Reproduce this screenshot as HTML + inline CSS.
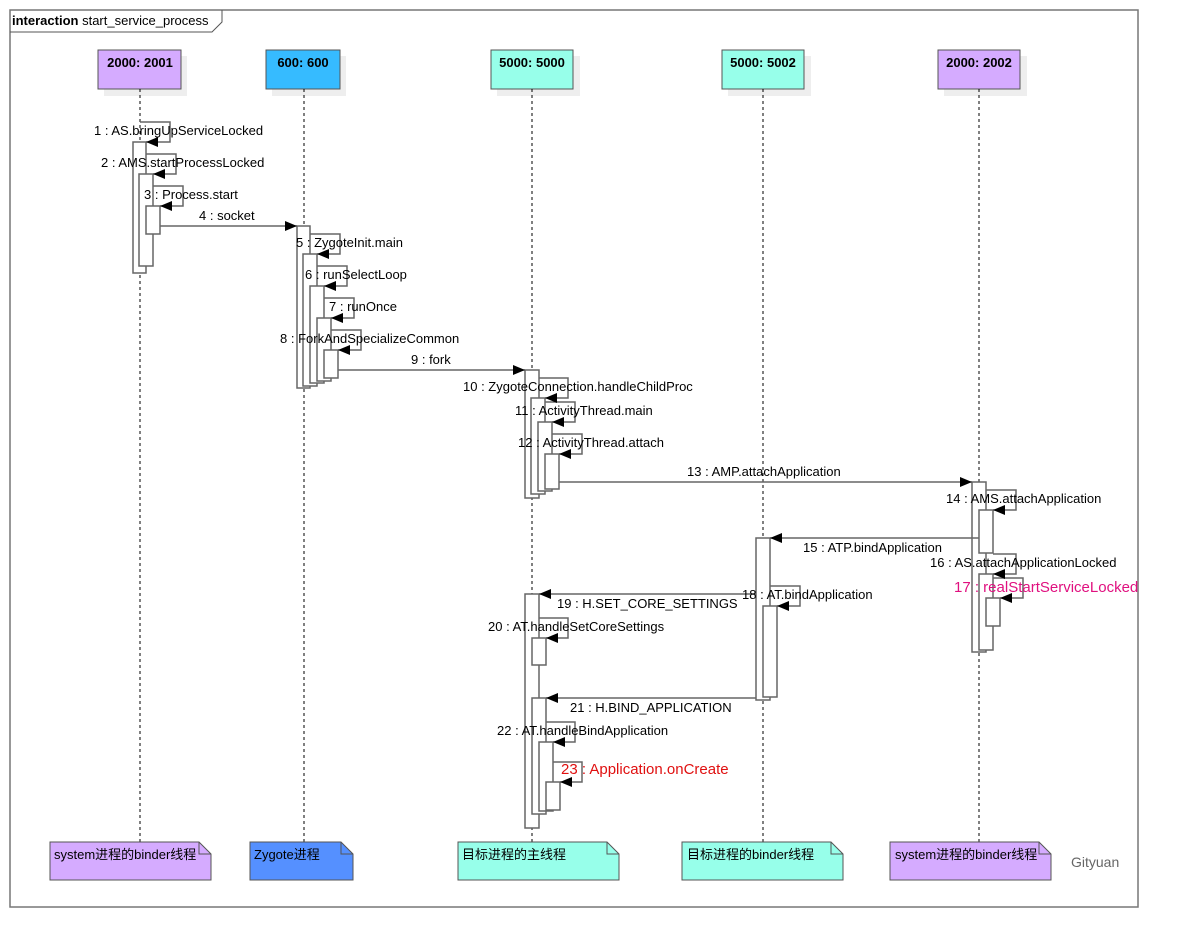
<!DOCTYPE html>
<html><head><meta charset="utf-8"><style>
html,body{margin:0;padding:0;background:#fff;}
svg{display:block;font-family:"Liberation Sans","Noto Sans CJK SC",sans-serif;}
</style></head><body>
<svg width="1178" height="946" viewBox="0 0 1178 946" xmlns="http://www.w3.org/2000/svg">
<rect x="10" y="10" width="1128" height="897" fill="#fff" stroke="#777" stroke-width="1.5"/>
<path d="M10 32 H212 L222 22 V10" fill="none" stroke="#555" stroke-width="1"/>
<text x="12" y="25" font-size="13"><tspan font-weight="bold">interaction</tspan> start_service_process</text>

<g font-size="13" font-weight="bold" text-anchor="middle">
<rect x="104" y="56" width="83" height="40" fill="#eee"/>
<rect x="98" y="50" width="83" height="39" fill="#d5abff" stroke="#555"/>
<text x="140" y="67">2000: 2001</text>
<rect x="272" y="56" width="74" height="40" fill="#eee"/>
<rect x="266" y="50" width="74" height="39" fill="#36bbff" stroke="#555"/>
<text x="303" y="67">600: 600</text>
<rect x="497" y="56" width="83" height="40" fill="#eee"/>
<rect x="491" y="50" width="82" height="39" fill="#97ffea" stroke="#555"/>
<text x="532" y="67">5000: 5000</text>
<rect x="728" y="56" width="83" height="40" fill="#eee"/>
<rect x="722" y="50" width="82" height="39" fill="#97ffea" stroke="#555"/>
<text x="763" y="67">5000: 5002</text>
<rect x="944" y="56" width="83" height="40" fill="#eee"/>
<rect x="938" y="50" width="82" height="39" fill="#d5abff" stroke="#555"/>
<text x="979" y="67">2000: 2002</text>
</g>

<g stroke="#000" stroke-width="1" stroke-dasharray="3,3">
<line x1="140" y1="89" x2="140" y2="842"/>
<line x1="304" y1="89" x2="304" y2="842"/>
<line x1="532" y1="89" x2="532" y2="842"/>
<line x1="763" y1="89" x2="763" y2="842"/>
<line x1="979" y1="89" x2="979" y2="842"/>
</g>

<g fill="#fff" stroke="#666" stroke-width="1.5">
<rect x="133" y="142" width="13" height="131"/>
<rect x="139" y="174" width="14" height="92"/>
<rect x="146" y="206" width="14" height="28"/>

<rect x="297" y="226" width="13" height="162"/>
<rect x="303" y="254" width="14" height="132"/>
<rect x="310" y="286" width="14" height="97"/>
<rect x="317" y="318" width="14" height="63"/>
<rect x="324" y="350" width="14" height="28"/>

<rect x="525" y="370" width="14" height="128"/>
<rect x="531" y="398" width="14" height="96"/>
<rect x="538" y="422" width="14" height="69"/>
<rect x="545" y="454" width="14" height="35"/>

<rect x="972" y="482" width="14" height="170"/>
<rect x="979" y="510" width="14" height="43"/>
<rect x="979" y="574" width="14" height="76"/>
<rect x="986" y="598" width="14" height="28"/>

<rect x="756" y="538" width="14" height="162"/>
<rect x="763" y="606" width="14" height="91"/>

<rect x="525" y="594" width="14" height="234"/>
<rect x="532" y="638" width="14" height="27"/>
<rect x="532" y="698" width="14" height="116"/>
<rect x="539" y="742" width="14" height="69"/>
<rect x="546" y="782" width="14" height="28"/>
</g>

<g fill="none" stroke="#666" stroke-width="1.5">
<path d="M140 122 H170 V142 H146"/>
<path d="M146 154 H176 V174 H153"/>
<path d="M153 186 H183 V206 H160"/>
<path d="M160 226 H297"/>
<path d="M310 234 H340 V254 H317"/>
<path d="M317 266 H347 V286 H324"/>
<path d="M324 298 H354 V318 H331"/>
<path d="M331 330 H361 V350 H338"/>
<path d="M338 370 H525"/>
<path d="M539 378 H568 V398 H545"/>
<path d="M545 402 H575 V422 H552"/>
<path d="M552 434 H582 V454 H559"/>
<path d="M559 482 H972"/>
<path d="M986 490 H1016 V510 H993"/>
<path d="M979 538 H770"/>
<path d="M993 554 H1016 V574 H993"/>
<path d="M993 578 H1023 V598 H1000"/>
<path d="M770 586 H800 V606 H777"/>
<path d="M756 594 H539"/>
<path d="M539 618 H568 V638 H546"/>
<path d="M756 698 H546"/>
<path d="M546 722 H575 V742 H553"/>
<path d="M553 762 H582 V782 H560"/>
</g>
<g fill="#000">
<polygon points="146,142 158,137 158,147"/>
<polygon points="153,174 165,169 165,179"/>
<polygon points="160,206 172,201 172,211"/>
<polygon points="297,226 285,221 285,231"/>
<polygon points="317,254 329,249 329,259"/>
<polygon points="324,286 336,281 336,291"/>
<polygon points="331,318 343,313 343,323"/>
<polygon points="338,350 350,345 350,355"/>
<polygon points="525,370 513,365 513,375"/>
<polygon points="545,398 557,393 557,403"/>
<polygon points="552,422 564,417 564,427"/>
<polygon points="559,454 571,449 571,459"/>
<polygon points="972,482 960,477 960,487"/>
<polygon points="993,510 1005,505 1005,515"/>
<polygon points="770,538 782,533 782,543"/>
<polygon points="993,574 1005,569 1005,579"/>
<polygon points="1000,598 1012,593 1012,603"/>
<polygon points="777,606 789,601 789,611"/>
<polygon points="539,594 551,589 551,599"/>
<polygon points="546,638 558,633 558,643"/>
<polygon points="546,698 558,693 558,703"/>
<polygon points="553,742 565,737 565,747"/>
<polygon points="560,782 572,777 572,787"/>
</g>

<g font-size="13" fill="#000">
<text x="94" y="135">1 : AS.bringUpServiceLocked</text>
<text x="101" y="167">2 : AMS.startProcessLocked</text>
<text x="144" y="199">3 : Process.start</text>
<text x="199" y="220">4 : socket</text>
<text x="296" y="247">5 : ZygoteInit.main</text>
<text x="305" y="279">6 : runSelectLoop</text>
<text x="329" y="311">7 : runOnce</text>
<text x="280" y="343">8 : ForkAndSpecializeCommon</text>
<text x="411" y="364">9 : fork</text>
<text x="463" y="391">10 : ZygoteConnection.handleChildProc</text>
<text x="515" y="415">11 : ActivityThread.main</text>
<text x="518" y="447">12 : ActivityThread.attach</text>
<text x="687" y="476">13 : AMP.attachApplication</text>
<text x="946" y="503">14 : AMS.attachApplication</text>
<text x="803" y="552">15 : ATP.bindApplication</text>
<text x="930" y="567">16 : AS.attachApplicationLocked</text>
<text x="954" y="592" font-size="15" fill="#e0107f">17 : realStartServiceLocked</text>
<text x="742" y="599">18 : AT.bindApplication</text>
<text x="557" y="608">19 : H.SET_CORE_SETTINGS</text>
<text x="488" y="631">20 : AT.handleSetCoreSettings</text>
<text x="570" y="712">21 : H.BIND_APPLICATION</text>
<text x="497" y="735">22 : AT.handleBindApplication</text>
<text x="561" y="774" font-size="15" fill="#e01010">23 : Application.onCreate</text>
</g>

<g stroke="#555" stroke-width="1">
<path d="M50 842 H199 L211 854 V880 H50 Z" fill="#d5abff"/>
<path d="M199 842 V854 H211" fill="none"/>
<path d="M250 842 H341 L353 854 V880 H250 Z" fill="#5590ff"/>
<path d="M341 842 V854 H353" fill="none"/>
<path d="M458 842 H607 L619 854 V880 H458 Z" fill="#97ffea"/>
<path d="M607 842 V854 H619" fill="none"/>
<path d="M682 842 H831 L843 854 V880 H682 Z" fill="#97ffea"/>
<path d="M831 842 V854 H843" fill="none"/>
<path d="M890 842 H1039 L1051 854 V880 H890 Z" fill="#d5abff"/>
<path d="M1039 842 V854 H1051" fill="none"/>
</g>
<g font-size="13" fill="#000">
<text x="54" y="859">system进程的binder线程</text>
<text x="254" y="859">Zygote进程</text>
<text x="462" y="859">目标进程的主线程</text>
<text x="687" y="859">目标进程的binder线程</text>
<text x="895" y="859">system进程的binder线程</text>
</g>
<text x="1071" y="867" font-size="14" fill="#666">Gityuan</text>
</svg>
</body></html>
